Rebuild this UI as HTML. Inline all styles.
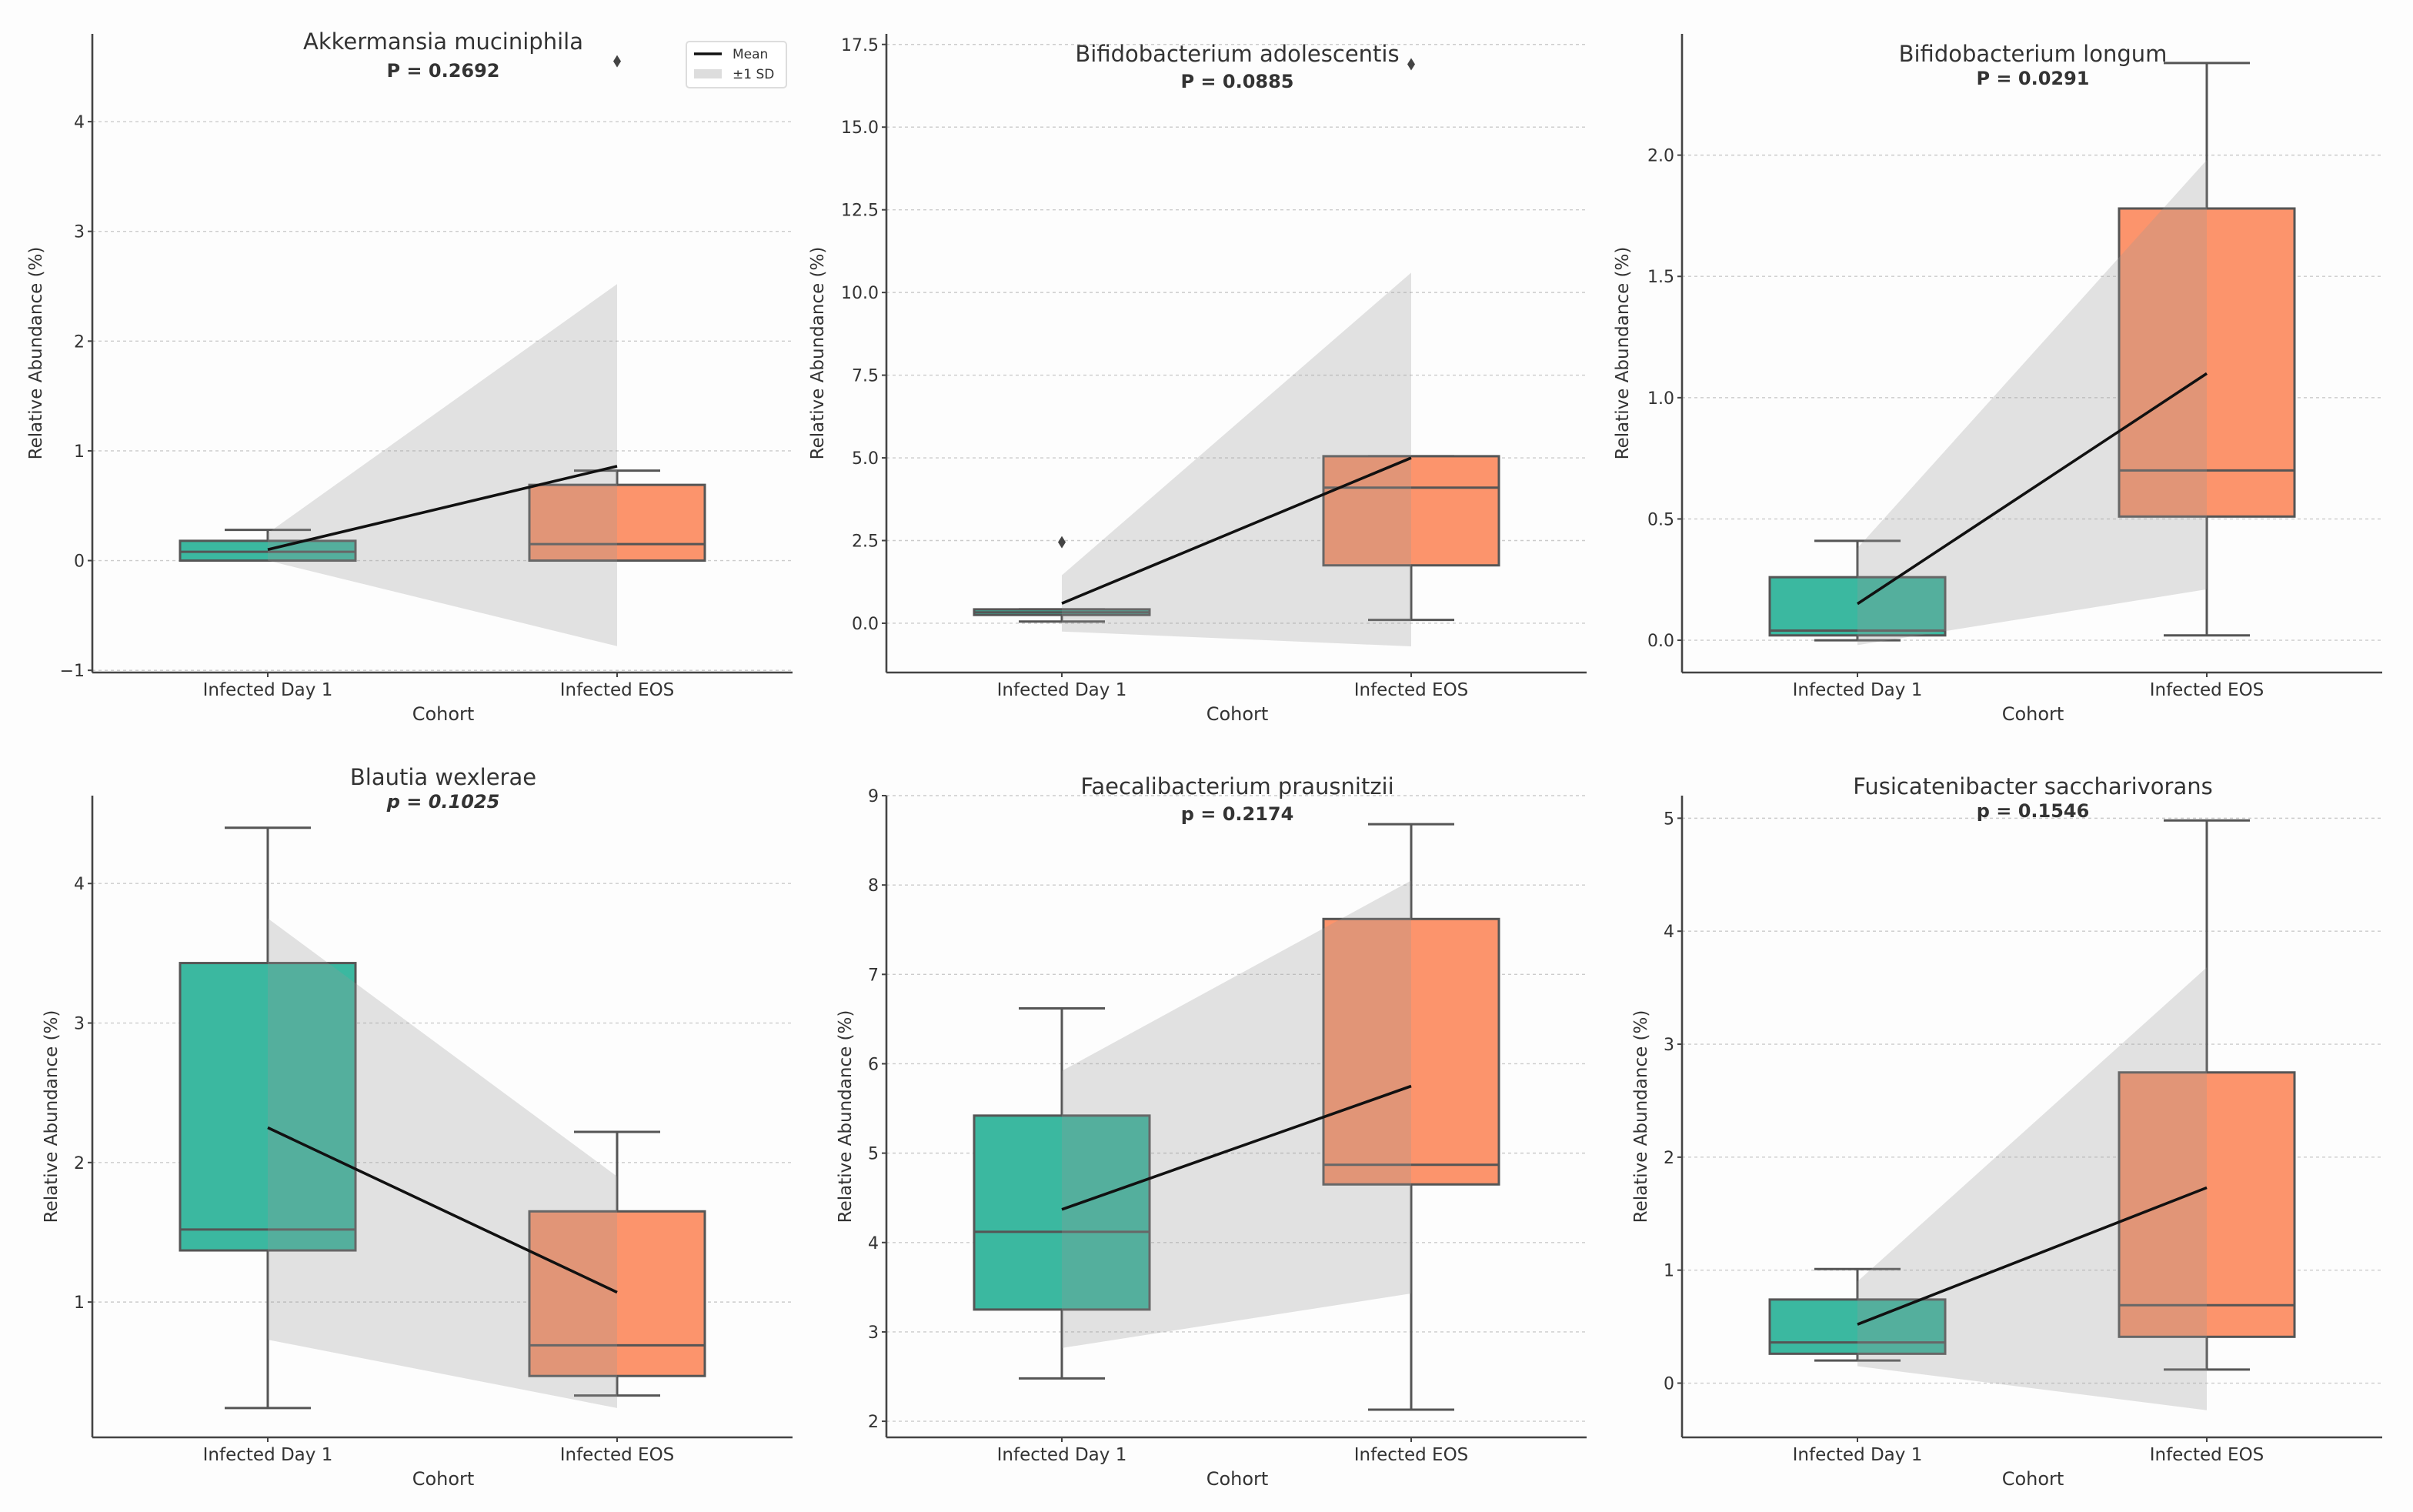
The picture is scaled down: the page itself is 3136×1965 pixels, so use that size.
<!DOCTYPE html>
<html><head><meta charset="utf-8"><style>
html,body{margin:0;padding:0;background:#fdfdfd}
svg{display:block}
text{font-family:"DejaVu Sans","Liberation Sans",sans-serif;fill:#333}
</style></head><body>
<svg id="fig" width="3136" height="1965" viewBox="0 0 1568 982.5" xmlns="http://www.w3.org/2000/svg">
<rect width="1568" height="982.5" fill="#fdfdfd"/>
</svg>
<script>
const titles = ["Akkermansia muciniphila","Bifidobacterium adolescentis","Bifidobacterium longum","Blautia wexlerae","Faecalibacterium prausnitzii","Fusicatenibacter saccharivorans"];
const pLabels = ["P = 0.2692","P = 0.0885","P = 0.0291","p = 0.1025","p = 0.2174","p = 0.1546"];
const categories = ["Infected Day 1","Infected EOS"];
// [lo, q1, med, q3, hi] per cohort
const day1Box = [[0,0,0.08,0.18,0.28],[0.05,0.25,0.33,0.42,0.42],[0,0.02,0.04,0.26,0.41],[0.24,1.37,1.52,3.43,4.4],[2.48,3.25,4.12,5.42,6.62],[0.2,0.26,0.36,0.74,1.01]];
const eosBox = [[0,0,0.15,0.69,0.82],[0.1,1.75,4.1,5.05,5.05],[0.02,0.51,0.7,1.78,2.38],[0.33,0.47,0.69,1.65,2.22],[2.13,4.65,4.87,7.62,8.68],[0.12,0.41,0.69,2.75,4.98]];
const day1Outliers = [[],[2.45],[],[],[],[]];
const eosOutliers = [[4.55],[16.9],[],[],[],[]];
const meanValues = [[0.1,0.86],[0.6,5.0],[0.15,1.1],[2.25,1.07],[4.37,5.75],[0.52,1.73]];
const sdLower = [[0.0,-0.78],[-0.25,-0.7],[-0.02,0.21],[0.73,0.24],[2.82,3.43],[0.15,-0.24]];
const sdUpper = [[0.25,2.52],[1.45,10.6],[0.38,1.98],[3.75,1.9],[5.92,8.05],[0.9,3.68]];
const yDomains = [[-1.02,4.8],[-1.49,17.82],[-0.133,2.5],[0.03,4.63],[1.82,9.0],[-0.48,5.2]];
const yTicks = [[-1,0,1,2,3,4],[0,2.5,5,7.5,10,12.5,15,17.5],[0,0.5,1,1.5,2],[1,2,3,4],[2,3,4,5,6,7,8,9],[0,1,2,3,4,5]];
const tickDecimals = [0,1,1,0,0,0];

const NS="http://www.w3.org/2000/svg";
const svg=document.getElementById('fig');
function mk(tag,attrs,parent){const e=document.createElementNS(NS,tag);for(const k in attrs)e.setAttribute(k,attrs[k]);(parent||svg).appendChild(e);return e;}
const colLeft=[60,576,1093], rowTop=[22,517], rowBot=[437,934], W=455;
const titleY=[[27,35,35],[505,511,511]], pY=[[46,53,51],[521,529,527]];
const ylabX=[[27,535,1058],[37,553,1070]];
const colors=["#3bb8a0","#fc946c"];

for(let i=0;i<6;i++){
  const r=Math.floor(i/3),c=i%3;
  const x0=colLeft[c],x1=x0+W,yT=rowTop[r],yB=rowBot[r];
  const [d0,d1]=yDomains[i];
  const y=v=>yB-(v-d0)/(d1-d0)*(yB-yT);
  const xs=[x0+114,x0+341];
  const g=mk('g',{});
  
  
  yTicks[i].forEach(t=>{
    const gl=mk('line',{x1:x0,x2:x1,y1:y(t),y2:y(t),stroke:'#ccc','stroke-width':0.7,'stroke-dasharray':'2,2'},g);
    
    
    mk('line',{x1:x0-3,x2:x0,y1:y(t),y2:y(t),stroke:'#444','stroke-width':1},g);
    const tl=mk('text',{x:x0-5,y:y(t)+4,'text-anchor':'end','font-size':11},g);
    tl.textContent=t<0?'\u2212'+Math.abs(t).toFixed(tickDecimals[i]):t.toFixed(tickDecimals[i]);
    
    
  });
  const boxes=[day1Box[i],eosBox[i]], outs=[day1Outliers[i],eosOutliers[i]];
  for(let k=0;k<2;k++){
    const b=boxes[k],cx=xs[k],hw=57;
    const bg=mk('g',{},g);
    
    
    mk('line',{x1:cx,x2:cx,y1:y(b[0]),y2:y(b[1]),stroke:'#555','stroke-width':1.5},bg);
    mk('line',{x1:cx,x2:cx,y1:y(b[3]),y2:y(b[4]),stroke:'#555','stroke-width':1.5},bg);
    mk('line',{x1:cx-28,x2:cx+28,y1:y(b[0]),y2:y(b[0]),stroke:'#555','stroke-width':1.5},bg);
    mk('line',{x1:cx-28,x2:cx+28,y1:y(b[4]),y2:y(b[4]),stroke:'#555','stroke-width':1.5},bg);
    mk('rect',{x:cx-hw,y:y(b[3]),width:2*hw,height:Math.max(1,y(b[1])-y(b[3])),fill:colors[k],stroke:'#555','stroke-width':1.5},bg);
    mk('line',{x1:cx-hw,x2:cx+hw,y1:y(b[2]),y2:y(b[2]),stroke:'#555','stroke-width':1.5},bg);
    outs[k].forEach(o=>{
      const d=mk('path',{d:`M${cx},${y(o)-4} L${cx+2.5},${y(o)} L${cx},${y(o)+4} L${cx-2.5},${y(o)} Z`,fill:'#444'},bg);
      
      
    });
  }
  const band=mk('path',{d:`M${xs[0]},${y(sdUpper[i][0])} L${xs[1]},${y(sdUpper[i][1])} L${xs[1]},${y(sdLower[i][1])} L${xs[0]},${y(sdLower[i][0])} Z`,fill:'#999','fill-opacity':0.27},g);
  
  
  const ml=mk('line',{x1:xs[0],y1:y(meanValues[i][0]),x2:xs[1],y2:y(meanValues[i][1]),stroke:'#111','stroke-width':1.8},g);
  
  
  mk('line',{x1:x0,x2:x0,y1:yT,y2:yB,stroke:'#444','stroke-width':1.3},g);
  mk('line',{x1:x0,x2:x1,y1:yB,y2:yB,stroke:'#444','stroke-width':1.3},g);
  categories.forEach((cat,k)=>{
    mk('line',{x1:xs[k],x2:xs[k],y1:yB,y2:yB+3,stroke:'#444'},g);
    const t=mk('text',{x:xs[k],y:yB+15,'text-anchor':'middle','font-size':11.5},g);
    t.textContent=cat;
    
    
  });
  const xl=mk('text',{x:x0+228,y:yB+31,'text-anchor':'middle','font-size':12},g);
  xl.textContent='Cohort';
  
  
  const yl=mk('text',{x:ylabX[r][c],y:(yT+yB)/2,'text-anchor':'middle','font-size':11.5,transform:`rotate(-90 ${ylabX[r][c]} ${(yT+yB)/2})`},g);
  yl.textContent='Relative Abundance (%)';
  
  
  const tt=mk('text',{x:x0+228,y:titleY[r][c]+5,'text-anchor':'middle','font-size':14.5},g);
  tt.textContent=titles[i];
  
  
  const pt=mk('text',{x:x0+228,y:pY[r][c]+4,'text-anchor':'middle','font-size':12,'font-weight':'bold','font-style':i==3?'italic':'normal'},g);
  pt.textContent=pLabels[i];
  
  
}
const lg=mk('g',{});


mk('rect',{x:446,y:27,width:65,height:30,fill:'#fff',stroke:'#ddd',rx:2},lg);
mk('line',{x1:451,x2:469,y1:35,y2:35,stroke:'#111','stroke-width':1.8},lg);
mk('rect',{x:451,y:45,width:18,height:6,fill:'#ddd'},lg);
const l1=mk('text',{x:476,y:38,'font-size':8.5},lg);l1.textContent='Mean';
const l2=mk('text',{x:476,y:51,'font-size':8.5},lg);l2.textContent='\u00b11 SD';
</script>
</body></html>
